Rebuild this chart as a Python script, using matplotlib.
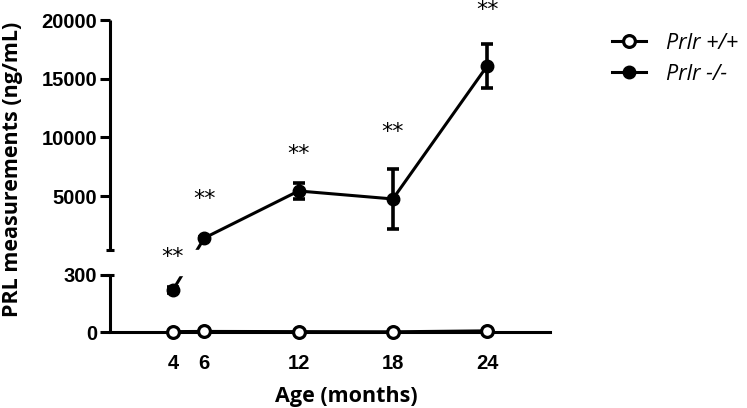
import numpy as np
import matplotlib
matplotlib.use("Agg")
import matplotlib.pyplot as plt

# data
age = [4, 6, 12, 18, 24]
wt_mean = [2, 3, 2, 1, 6]            # Prlr +/+
ko_mean = [220, 1420, 5430, 4750, 16080]   # Prlr -/-
ko_err = [15, 120, 720, 2550, 1900]
stars = ["**", "**", "**", "**", "**"]
star_y = [372, 4750, 8600, 10450, 20850]
yticks = [0, 300, 5000, 10000, 15000, 20000]


# broken y axis: 0-300 below, 400-20000 above, gap in between
def fwd(v):
    v = np.asarray(v, float)
    return np.where(v <= 300, v * 57 / 300,
                    np.where(v <= 400, 57 + (v - 300) * 0.25,
                             82 + (v - 400) * 230 / 19600))


def inv(h):
    h = np.asarray(h, float)
    return np.where(h <= 57, h * 300 / 57,
                    np.where(h <= 82, 300 + (h - 57) / 0.25,
                             400 + (h - 82) * 19600 / 230))


fig = plt.figure(figsize=(7.47, 4.08), dpi=100)
ax = fig.add_axes([110 / 747, 76 / 408, 440 / 747, 312 / 408])
ax.set_yscale("function", functions=(fwd, inv))
ax.set_xlim(0, 28)
ax.set_ylim(0, 20000)

lw = 2.2
ax.plot(age, ko_mean, color="black", lw=lw, zorder=2)
ax.errorbar(age, ko_mean, yerr=ko_err, fmt="none", ecolor="black",
            elinewidth=2.6, capsize=4.3, capthick=2.6, zorder=2)
ax.plot(age, ko_mean, "o", color="black", ms=9, zorder=4, clip_on=False)

ax.plot(age, wt_mean, color="black", lw=lw, zorder=3, clip_on=False)
ax.plot(age, wt_mean, "o", mfc="white", mec="black", mew=2.3, ms=8.5,
        zorder=5, clip_on=False)

# hide the break
ax.axhspan(300, 400, color="white", zorder=3.5)

for x, y, s in zip(age, star_y, stars):
    ax.text(x, y, s, ha="center", va="center", fontsize=16,
            family="DejaVu Sans", zorder=6, clip_on=False)

# legend handles
l1, = ax.plot([], [], "-o", color="black", mfc="white", mec="black",
              mew=2.3, ms=8.5, lw=lw)
l2, = ax.plot([], [], "-o", color="black", ms=9, lw=lw)
fig.legend([l1, l2], ["Prlr +/+", "Prlr -/-"], loc="upper left",
           bbox_to_anchor=(612 / 747, 1 - 33 / 408), frameon=False,
           prop={"family": "Open Sans", "style": "italic", "size": 15.5},
           handlelength=1.6, handletextpad=0.9, labelspacing=0.45,
           borderpad=0, borderaxespad=0)

# axes
for s in ["top", "right", "left"]:
    ax.spines[s].set_visible(False)
ax.spines["bottom"].set_linewidth(lw)
ax.plot([0, 0], [0, 300], color="black", lw=lw, clip_on=False,
        solid_capstyle="butt", zorder=4)
ax.plot([0, 0], [400, 20000], color="black", lw=lw, clip_on=False,
        solid_capstyle="butt", zorder=4)
ax.plot([0, 0], [300, 400], "_", color="black", ms=6, mew=lw,
        clip_on=False, zorder=4)

ax.set_yticks(yticks)
ax.set_yticklabels([str(t) for t in yticks])
ax.set_xticks(age)
ax.tick_params(axis="y", length=7, width=lw, pad=2, labelsize=14.5)
ax.tick_params(axis="x", length=0, pad=16, labelsize=14.5)
for lab in ax.get_yticklabels() + ax.get_xticklabels():
    lab.set_fontweight("bold")
    lab.set_family("Liberation Sans")

ax.set_xlabel("Age (months)", fontsize=15.5, fontweight="bold",
              family="Open Sans")
ax.set_ylabel("PRL measurements (ng/mL)", fontsize=15.5, fontweight="bold",
              family="Open Sans")
ax.xaxis.set_label_coords(0.536, -0.172)
ax.yaxis.set_label_coords(-0.198, 0.522)

fig.savefig("out.png", dpi=100)
